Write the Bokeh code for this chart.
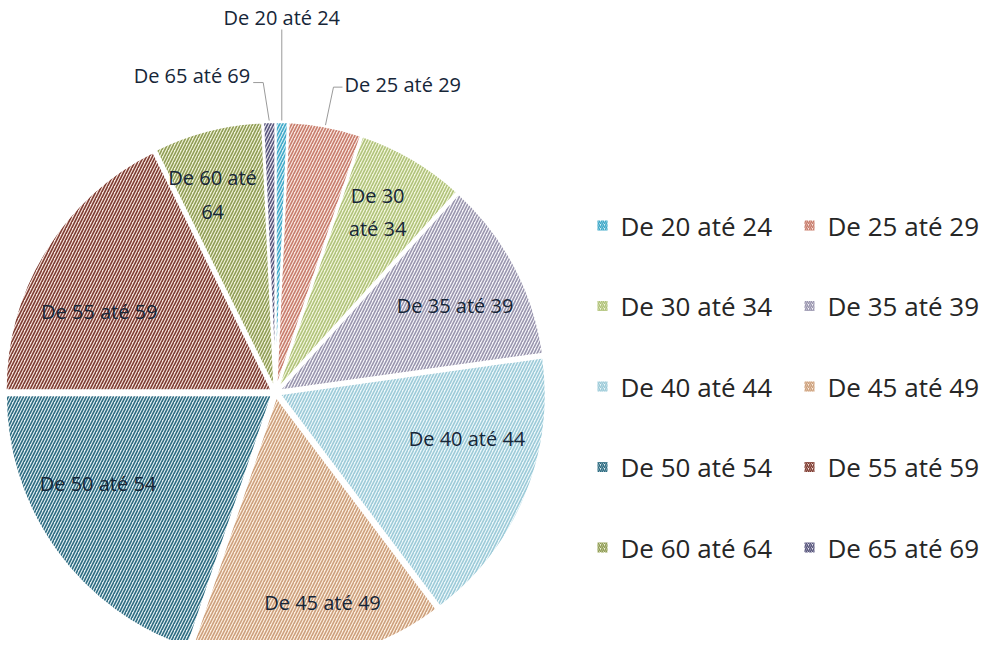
import math
from bokeh.plotting import figure
from bokeh.models import Range1d, ColumnDataSource
from bokeh.core.properties import value
from bokeh.embed import file_html
from bokeh.resources import INLINE

# ---------------- data ----------------
categories = ["De 20 até 24", "De 25 até 29", "De 30 até 34", "De 35 até 39", "De 40 até 44",
              "De 45 até 49", "De 50 até 54", "De 55 até 59", "De 60 até 64", "De 65 até 69"]
counts = [1, 6, 9, 15, 23, 21, 27, 24, 9, 1]
slice_labels = ["De 20 até 24", "De 25 até 29", "De 30\naté 34", "De 35 até 39", "De 40 até 44",
                "De 45 até 49", "De 50 até 54", "De 55 até 59", "De 60 até\n64", "De 65 até 69"]

# ---------------- style ----------------
fill_colors = ["#d6eff6", "#f9e6e0", "#f2f6dc", "#f6f5f9", "#ecf7fa",
               "#fcefe0", "#e0edf1", "#f5e2dc", "#f0f2d8", "#e4e3ee"]
hatch_colors = ["#3fa8c8", "#c77c6c", "#b0c27a", "#9995ae", "#9ccad8",
                "#cc9f7c", "#2c6a80", "#7d3b31", "#8f9c55", "#56547a"]
# label placement inside slice: fraction across the slice, fraction of radius
label_frac = [0.5, 0.5, 0.46, 0.55, 0.35, 0.44, 0.62, 0.39, 0.37, 0.5]
label_rad = [1.0, 1.0, 0.78, 0.75, 0.74, 0.81, 0.75, 0.73, 0.78, 1.0]
outside = [True, True, False, False, False, False, False, False, False, True]

PAGE_H = 656
CX, CY, R = 283, PAGE_H - 400, 266
EXPLODE = 4.5
LABEL_FONT = "Open Sans"
LABEL_COLOR = "#162638"

p = figure(width=984, height=640, x_range=Range1d(8, 992), y_range=Range1d(8, 648),
           output_backend="svg", toolbar_location=None, min_border=0)
p.axis.visible = False
p.grid.visible = False
p.outline_line_color = None
p.background_fill_color = "white"

total = sum(counts)
cum = 0.0
xs, ys, starts, ends, mids, spans0, spans1 = [], [], [], [], [], [], []
for c in counts:
    t0 = cum / total * 2 * math.pi           # clockwise from top
    t1 = (cum + c) / total * 2 * math.pi
    cum += c
    tm = (t0 + t1) / 2
    spans0.append(t0)
    spans1.append(t1)
    mids.append(tm)
    xs.append(CX + EXPLODE * math.sin(tm))
    ys.append(CY + EXPLODE * math.cos(tm))
    starts.append(math.pi / 2 - t1)
    ends.append(math.pi / 2 - t0)

src = ColumnDataSource(dict(x=xs, y=ys, start=starts, end=ends, fill=fill_colors,
                            hatch=hatch_colors, cat=categories))
p.wedge(x="x", y="y", radius=R, start_angle="start", end_angle="end",
        fill_color="fill", hatch_pattern="/", hatch_color="hatch", hatch_scale=6,
        hatch_weight=1.6, line_color="white", line_width=2, source=src)

# inside labels
lx, ly, lt = [], [], []
for i in range(len(counts)):
    if outside[i]:
        continue
    t = spans0[i] + label_frac[i] * (spans1[i] - spans0[i])
    r = label_rad[i] * R
    lx.append(CX + r * math.sin(t))
    ly.append(CY + r * math.cos(t))
    lt.append(slice_labels[i])
p.text(x=lx, y=ly, text=lt, text_align="center", text_baseline="middle",
       text_font=value(LABEL_FONT), text_font_size="20px", text_color=LABEL_COLOR,
       text_line_height=1.25)

# outside labels with leader lines
lead_col = "#9a9a9a"
# De 20 até 24 : straight up
i = 0
ex, ey = CX + (R + 6) * math.sin(mids[i]), CY + (R + 6) * math.cos(mids[i])
p.line([ex, ex], [ey, PAGE_H - 37], line_color=lead_col, line_width=1)
p.text(x=[ex], y=[PAGE_H - 25], text=[slice_labels[i]], text_align="center",
       text_baseline="middle", text_font=value(LABEL_FONT), text_font_size="20px",
       text_color=LABEL_COLOR)
# De 25 até 29 : up-right
i = 1
ex, ey = CX + (R + 6) * math.sin(mids[i]), CY + (R + 6) * math.cos(mids[i])
p.line([ex, ex + 8, ex + 17], [ey, ey + 38, ey + 38], line_color=lead_col, line_width=1)
p.text(x=[ex + 19], y=[ey + 41], text=[slice_labels[i]], text_align="left",
       text_baseline="middle", text_font=value(LABEL_FONT), text_font_size="20px",
       text_color=LABEL_COLOR)
# De 65 até 69 : up-left
i = 9
ex, ey = CX + (R + 6) * math.sin(mids[i]), CY + (R + 6) * math.cos(mids[i])
p.line([ex, ex - 6, ex - 16], [ey, ey + 38, ey + 38], line_color=lead_col, line_width=1)
p.text(x=[ex - 19], y=[ey + 45], text=[slice_labels[i]], text_align="right",
       text_baseline="middle", text_font=value(LABEL_FONT), text_font_size="20px",
       text_color=LABEL_COLOR)

# legend (2 columns x 5 rows)
LEG_X0, LEG_DX = 610, 207
LEG_Y0, LEG_DY = PAGE_H - 233, 80.5
gx, gy, tx, ty = [], [], [], []
for k in range(len(categories)):
    row, col = k // 2, k % 2
    gx.append(LEG_X0 + col * LEG_DX)
    gy.append(LEG_Y0 - row * LEG_DY)
    tx.append(LEG_X0 + col * LEG_DX + 18)
    ty.append(LEG_Y0 - row * LEG_DY)
lsrc = ColumnDataSource(dict(x=gx, y=gy, fill=fill_colors, hatch=hatch_colors))
p.rect(x="x", y="y", width=10, height=10, fill_color="fill", hatch_pattern="/",
       hatch_color="hatch", hatch_scale=4, hatch_weight=1.5, line_color=None, source=lsrc)
p.text(x=tx, y=ty, text=categories, text_align="left", text_baseline="middle",
       text_font=value("Open Sans"), text_font_size="26px", text_color="#262626")

open("out.html", "w").write(file_html(p, INLINE))
